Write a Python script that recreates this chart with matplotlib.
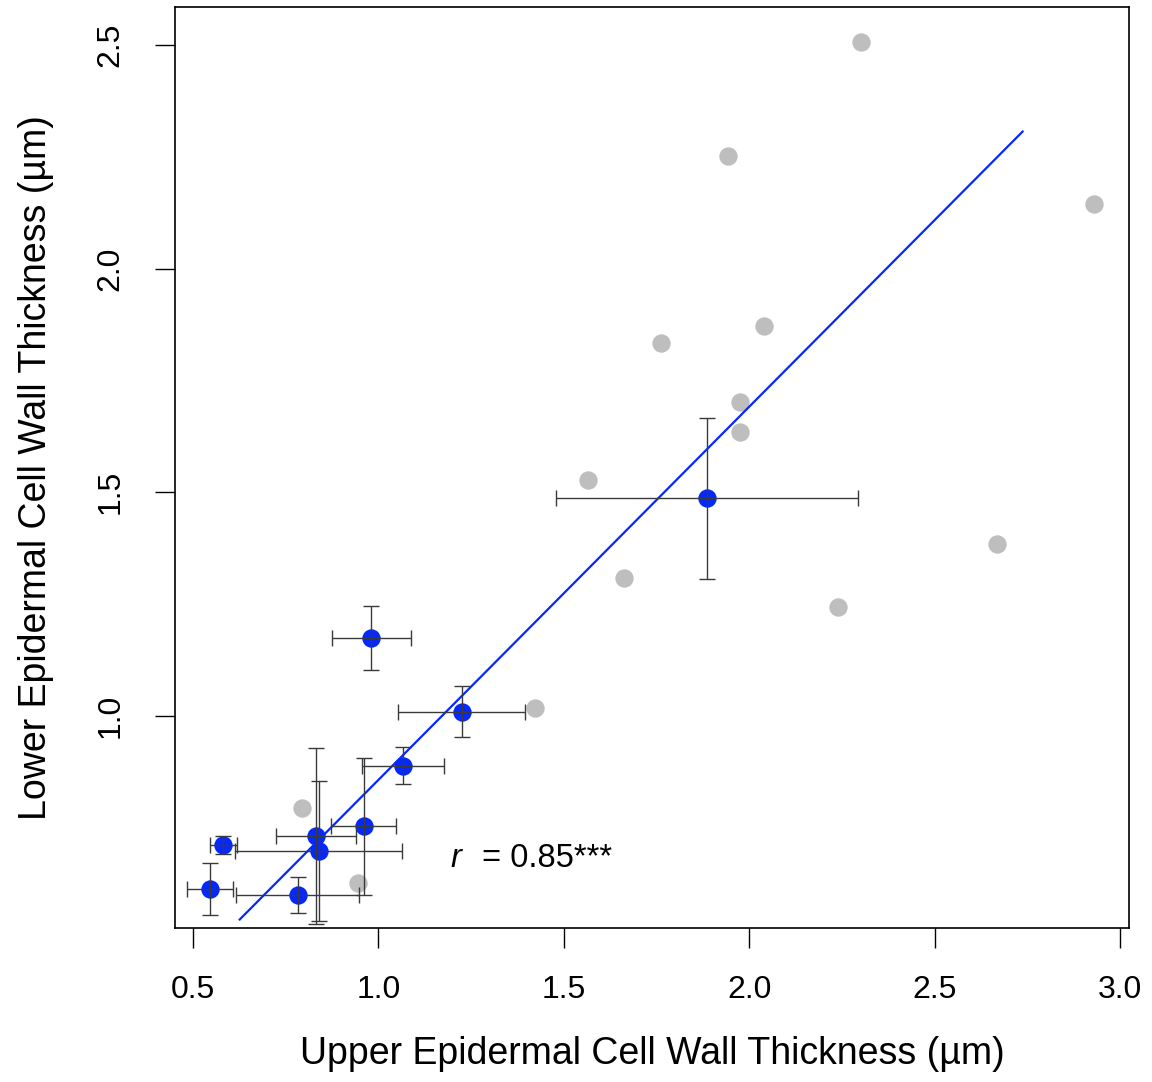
import numpy as np
import matplotlib.pyplot as plt

plt.rcParams['font.family'] = ['Liberation Sans', 'DejaVu Sans']

# grey points (no error bars)
GREY_X = [2.300, 1.944, 2.930, 2.041, 1.763, 1.974, 1.974, 1.564, 1.661, 2.669, 2.238, 1.421, 0.794, 0.944]
GREY_Y = [2.507, 2.252, 2.145, 1.872, 1.834, 1.702, 1.635, 1.528, 1.309, 1.385, 1.244, 1.018, 0.794, 0.627]

# blue means with error bars
BLUE_X = [0.981, 1.225, 1.066, 0.960, 0.783, 0.832, 0.839, 0.582, 0.547, 1.885]
BLUE_Y = [1.174, 1.010, 0.889, 0.753, 0.600, 0.732, 0.698, 0.712, 0.613, 1.487]
BLUE_XERR = [0.106, 0.171, 0.110, 0.087, 0.166, 0.108, 0.225, 0.036, 0.062, 0.407]
BLUE_YERR = [0.072, 0.058, 0.041, 0.153, 0.040, 0.197, 0.156, 0.020, 0.059, 0.180]

# fitted line
FIT_X = [0.626, 2.737]
FIT_INTERCEPT = 0.0227
FIT_SLOPE = 0.8344

BLUE = '#0528FF'
GREY = '#BEBEBE'

fig = plt.figure(figsize=(11.52, 10.82), dpi=100)
ax = fig.add_axes([175/1152, 1 - 928/1082, (1129-175)/1152, (928-7)/1082])

ax.scatter(GREY_X, GREY_Y, s=175, color=GREY, linewidths=0, zorder=2)

fx = np.array(FIT_X)
ax.plot(fx, FIT_INTERCEPT + FIT_SLOPE * fx, color=BLUE, lw=1.6, zorder=3)

ax.scatter(BLUE_X, BLUE_Y, s=175, color=BLUE, linewidths=0, zorder=4)
ax.errorbar(BLUE_X, BLUE_Y, xerr=BLUE_XERR, yerr=BLUE_YERR, fmt='none',
            ecolor='#3a3a3a', elinewidth=1.0, capsize=5.5, capthick=1.0, zorder=5)

ax.text(1.195, 0.663, 'r', style='italic', fontsize=23.5, va='baseline', ha='left')
ax.text(1.279, 0.663, '= 0.85***', fontsize=23.5, va='baseline', ha='left')

ax.set_xlim(0.4515, 3.024)
ax.set_ylim(0.526, 2.585)
ax.set_xticks([0.5, 1.0, 1.5, 2.0, 2.5, 3.0])
ax.set_yticks([1.0, 1.5, 2.0, 2.5])
ax.set_xticklabels(['0.5', '1.0', '1.5', '2.0', '2.5', '3.0'])
ax.set_yticklabels(['1.0', '1.5', '2.0', '2.5'], rotation=90, va='center')

ax.tick_params(axis='both', direction='out', length=14.5, width=1.0, labelsize=23)
ax.tick_params(axis='x', pad=19)
ax.tick_params(axis='y', pad=21)
for s in ax.spines.values():
    s.set_linewidth(1.2)

ax.set_xlabel('Upper Epidermal Cell Wall Thickness (\u00b5m)', fontsize=27, labelpad=23)
ax.set_ylabel('Lower Epidermal Cell Wall Thickness (\u00b5m)', fontsize=27, labelpad=30)

fig.savefig('out.png', dpi=100)
